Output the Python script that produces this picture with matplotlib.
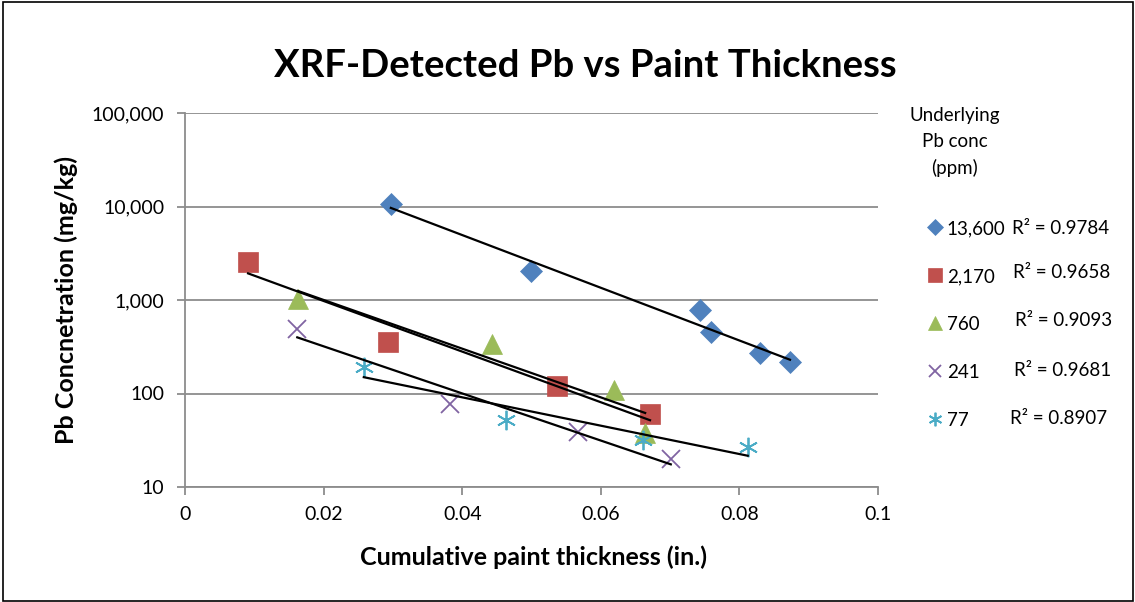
import numpy as np
import matplotlib
matplotlib.use("Agg")
from matplotlib import pyplot as plt
from matplotlib.ticker import FuncFormatter, FixedLocator, NullLocator
from matplotlib.patches import Rectangle

plt.rcParams['font.family'] = ['Lato', 'DejaVu Sans']

# underlying Pb concentration series (ppm)
labels = ['13,600', '2,170', '760', '241', '77']
r2_text = ['R² = 0.9784', 'R² = 0.9658', 'R² = 0.9093', 'R² = 0.9681', 'R² = 0.8907']

x_13600 = [0.0297, 0.0499, 0.0743, 0.0759, 0.0830, 0.0873]
y_13600 = [10600, 2040, 780, 455, 271, 217]

x_2170 = [0.0091, 0.0293, 0.0537, 0.0671]
y_2170 = [2550, 355, 120, 60]

x_760 = [0.0163, 0.0443, 0.0619, 0.0664]
y_760 = [1030, 340, 110, 38]

x_241 = [0.0162, 0.0382, 0.0567, 0.0701]
y_241 = [490, 78, 38.5, 20]

x_77 = [0.0258, 0.0463, 0.0661, 0.0812]
y_77 = [192, 52, 32, 27]

xs = [x_13600, x_2170, x_760, x_241, x_77]
ys = [y_13600, y_2170, y_760, y_241, y_77]

colors = ['#4F81BD', '#C0504D', '#9BBB59', '#8064A2', '#4BACC6']
markers = ['D', 's', '^', 'x', (6, 2, 0)]
msizes = [11, 14, 15, 13, 14]

W, H = 1135, 602
fig = plt.figure(figsize=(W / 100, H / 100), dpi=100)
ax = fig.add_axes([185 / W, 1 - 487 / H, 693 / W, 374 / H])

handles = []
for x, y, c, m, ms, lab in zip(xs, ys, colors, markers, msizes, labels):
    x = np.array(x)
    y = np.array(y)
    thin = m in ('x', (6, 2, 0))
    h, = ax.plot(x, y, linestyle='none', marker=m, color=c, markersize=ms,
                 markeredgewidth=1.3 if thin else 0.5, markeredgecolor=c, label=lab, zorder=3)
    handles.append(h)
    # exponential trendline (Excel style)
    b, a = np.polyfit(x, np.log(y), 1)
    xt = np.linspace(x.min(), x.max(), 50)
    ax.plot(xt, np.exp(a + b * xt), color='black', lw=1.6, zorder=4)

ax.set_yscale('log')
ax.set_ylim(10, 100000)
ax.set_xlim(0, 0.1)
ax.yaxis.set_major_locator(FixedLocator([10, 100, 1000, 10000, 100000]))
ax.yaxis.set_minor_locator(NullLocator())
ax.yaxis.set_major_formatter(FuncFormatter(lambda v, p: '{:,.0f}'.format(v)))
ax.set_xticks([0, 0.02, 0.04, 0.06, 0.08, 0.1])
ax.xaxis.set_major_formatter(FuncFormatter(lambda v, p: '0' if v == 0 else '{:g}'.format(round(v, 2))))

ax.grid(axis='y', color='#8C8C8C', lw=1.3)
ax.set_axisbelow(True)
for s in ['top', 'right']:
    ax.spines[s].set_visible(False)
for s in ['left', 'bottom']:
    ax.spines[s].set_color('#8C8C8C')
    ax.spines[s].set_linewidth(1.3)
ax.tick_params(axis='both', colors='#8C8C8C', length=6, width=1.3, direction='out',
               labelcolor='black', labelsize=14)
ax.tick_params(axis='y', pad=9)
ax.tick_params(axis='x', pad=8)

fig.text(533 / W, 1 - 557 / H, 'Cumulative paint thickness (in.)', fontsize=18,
         fontweight='bold', ha='center', va='center')
fig.text(66 / W, 1 - 300 / H, 'Pb Concnetration (mg/kg)', fontsize=18,
         fontweight='bold', ha='center', va='center', rotation=90)

fig.text(585 / W, 1 - 66 / H, 'XRF-Detected Pb vs Paint Thickness', fontsize=27.5,
         fontweight='bold', ha='center', va='center')

# legend title
fig.text(955 / W, 1 - 142 / H, 'Underlying\nPb conc\n(ppm)', fontsize=13.5,
         ha='center', va='center', multialignment='center', linespacing=1.6)

leg = fig.legend(handles=handles, loc='upper left', bbox_to_anchor=(929 / W, 1 - 220 / H),
                 frameon=False, fontsize=13.5, markerscale=0.7, handlelength=0.6,
                 handletextpad=0.35, labelspacing=1.65, borderpad=0, borderaxespad=0)

r2_x = [1012, 1013, 1015, 1014, 1010]
r2_y = [228, 273, 321, 370, 418]
for t, px, py in zip(r2_text, r2_x, r2_y):
    fig.text(px / W, 1 - py / H, t, fontsize=13.5, ha='left', va='center')

fig.add_artist(Rectangle((0.003, 0.002), 0.995, 0.995, transform=fig.transFigure,
                         fill=False, edgecolor='black', lw=1.2))

fig.savefig('out.png', dpi=100)
